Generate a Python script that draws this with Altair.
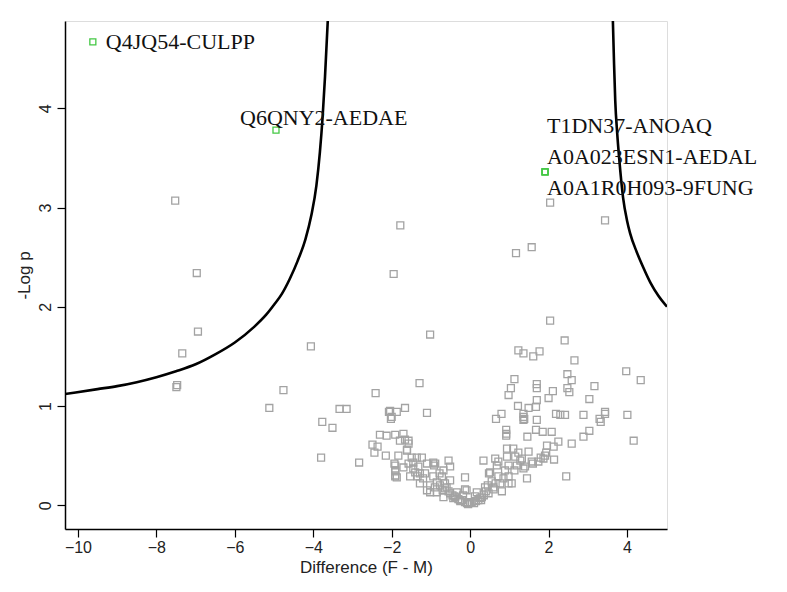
import altair as alt
import pandas as pd

# ---- data ----
gray_x = [-7.52, -6.97, -6.94, -7.34, -7.49, -7.47, -4.06, -4.76, -5.12, -3.77, -3.51, -3.33, -3.15,
          -3.80, -2.83, -2.41, -2.49, -2.36, -2.44, -2.15, -2.07, -2.02, -1.91, -1.93, -1.91, -1.91,
          -1.78, -1.95, -1.02,
          2.04, 3.44, 1.17, 1.57,
          2.04, 2.41, 1.23, 1.36, 1.61, 1.77, 2.66, 3.98, 4.35, -1.29, 1.13, 1.04, 0.98, 1.70, 1.70,
          2.11, 2.00, 2.48, 2.59, 2.48, 2.53, 3.17, 3.04, 1.70, 1.22, 1.49, 1.68, 1.36, 1.36, 1.38,
          1.36, 0.66, 0.80, 1.70, 2.19, 2.30, 2.42, 2.89, 3.30, 3.33, 3.44, 3.44, 4.01, 4.17, 0.92,
          0.92, 0.92, 1.68, 1.85, 2.08, 1.46, 3.04, 2.89, 2.59, 2.25, 2.13, 1.96, 2.14, 2.45,
          -2.04, -1.87, -1.66, -2.00, -1.10, -2.30, -2.13, -1.70, -1.83,
          -1.79, -1.57, -1.61, -1.49, -1.36, -1.23, -1.91, -1.91, -1.91, -1.87, -1.57, -1.45, -1.32,
          -1.10, -0.89, -0.55, -0.51, -1.53, -1.34, -1.15, -0.94, -0.72, -0.13, -1.28, -1.02, -0.85,
          -0.64, -0.51, -1.10, -0.85, -0.64, -0.34, -0.09, -0.68, -0.43, -0.21, 0.00,
          -1.66, -1.57, -1.61, -1.45, -1.28, -1.02, -0.77, -0.60, -0.51, -0.38, -0.94, -0.92, -0.68,
          -0.78, -0.26, -0.13, 0.17,
          0.94, 1.10, 1.23, 0.34, 0.64, 0.72, 0.94, 1.15, 1.32, 1.49, 1.91, 1.87, 1.74, 1.57, 1.40,
          0.68, 0.98, 1.19, 0.89, 1.13, 1.36, 1.45, 0.48, 0.72, 0.98, 0.55, 0.77, 0.59, 0.81, 0.38,
          0.47, 0.30, 0.21, 0.04, -0.08, -0.13, 0.51, 0.98, 1.06, 1.28, 1.94,
          0.10, 0.15, -0.05, 0.25, -0.30, 0.35, -0.45, 0.12, -0.18, 0.40, -0.55, 0.60, -0.70, 0.65,
          -0.90, 0.85, -1.20, -1.40, -1.70, 1.60, 1.80, -0.25, 0.28, 0.45, -0.40]
gray_y = [3.07, 2.34, 1.75, 1.53, 1.19, 1.21, 1.60, 1.16, 0.98, 0.84, 0.78, 0.97, 0.97,
          0.48, 0.43, 1.13, 0.61, 0.59, 0.53, 0.50, 0.94, 0.87, 0.71, 0.42, 0.34, 0.29,
          2.82, 2.33, 1.72,
          3.05, 2.87, 2.54, 2.60,
          1.86, 1.66, 1.56, 1.53, 1.50, 1.55, 1.46, 1.35, 1.26, 1.23, 1.27, 1.18, 1.11, 1.22, 1.18,
          1.15, 1.08, 1.32, 1.26, 1.18, 1.14, 1.20, 1.07, 1.06, 1.00, 0.98, 0.99, 0.92, 0.89, 0.87,
          0.86, 0.87, 0.92, 0.86, 0.92, 0.91, 0.91, 0.91, 0.87, 0.84, 0.94, 0.92, 0.91, 0.65, 0.76,
          0.72, 0.70, 0.76, 0.74, 0.74, 0.69, 0.75, 0.69, 0.62, 0.64, 0.59, 0.60, 0.46, 0.29,
          0.95, 0.94, 0.98, 0.89, 0.93, 0.71, 0.70, 0.72, 0.50,
          0.65, 0.65, 0.55, 0.48, 0.48, 0.48, 0.40, 0.35, 0.30, 0.28, 0.42, 0.43, 0.39,
          0.42, 0.42, 0.45, 0.39, 0.29, 0.29, 0.32, 0.29, 0.29, 0.28, 0.22, 0.20, 0.23,
          0.22, 0.25, 0.15, 0.13, 0.17, 0.13, 0.15, 0.08, 0.07, 0.05, 0.03,
          0.66, 0.62, 0.56, 0.37, 0.32, 0.13, 0.20, 0.18, 0.12, 0.08, 0.43, 0.40, 0.35,
          0.32, 0.05, 0.03, 0.13,
          0.57, 0.57, 0.53, 0.45, 0.47, 0.44, 0.49, 0.49, 0.47, 0.54, 0.50, 0.47, 0.44, 0.44, 0.39,
          0.40, 0.40, 0.40, 0.35, 0.35, 0.37, 0.27, 0.32, 0.29, 0.29, 0.24, 0.22, 0.18, 0.14, 0.18,
          0.12, 0.08, 0.05, 0.03, 0.02, 0.16, 0.33, 0.22, 0.22, 0.45, 0.53,
          0.02, 0.04, 0.01, 0.07, 0.06, 0.10, 0.10, 0.09, 0.10, 0.14, 0.14, 0.16, 0.15, 0.22,
          0.18, 0.27, 0.27, 0.33, 0.38, 0.42, 0.48, 0.04, 0.05, 0.20, 0.09]

green_x = [-9.62, -4.95, 1.91, 1.91, 1.91]
green_y = [4.67, 3.78, 3.36, 3.36, 3.36]
green_labels = ["Q4JQ54-CULPP", "Q6QNY2-AEDAE", "T1DN37-ANOAQ", "A0A023ESN1-AEDAL", "A0A1R0H093-9FUNG"]

left_curve_x = [-10.33, -9.5, -9.0, -8.5, -8.0, -7.5, -7.0, -6.5, -6.0, -5.5, -5.2, -5.0, -4.8,
                -4.6, -4.4, -4.2, -4.05, -3.92, -3.83, -3.76, -3.70, -3.63]
left_curve_y = [1.12, 1.17, 1.20, 1.24, 1.29, 1.35, 1.42, 1.52, 1.64, 1.80, 1.92, 2.02, 2.13,
                2.28, 2.46, 2.68, 2.92, 3.22, 3.56, 3.92, 4.32, 4.88]
right_curve_x = [3.64, 3.67, 3.70, 3.75, 3.80, 3.90, 4.00, 4.08, 4.25, 4.41, 4.60, 4.80, 5.02]
right_curve_y = [4.88, 4.45, 4.08, 3.75, 3.50, 3.10, 2.87, 2.74, 2.55, 2.40, 2.24, 2.11, 2.00]

x_ticks = [-10, -8, -6, -4, -2, 0, 2, 4]
y_ticks = [0, 1, 2, 3, 4]
x_domain = [-10.33, 5.02]
y_domain = [-0.24, 4.88]

# ---- tables ----
gray = pd.DataFrame({"x": gray_x, "y": gray_y})
green = pd.DataFrame({"x": green_x, "y": green_y, "label": green_labels})
left = pd.DataFrame({"x": left_curve_x, "y": left_curve_y})
right = pd.DataFrame({"x": right_curve_x, "y": right_curve_y})

xs = alt.Scale(domain=x_domain, nice=False, zero=False)
ys = alt.Scale(domain=y_domain, nice=False, zero=False)

axis_common = dict(domainColor="black", domainWidth=1.5, tickColor="black", tickWidth=1.2,
                   tickSize=8, labelFont="Liberation Sans", labelFontSize=16, labelColor="#222",
                   titleFont="Liberation Sans", titleFontSize=17, titleFontWeight="normal",
                   titleColor="#222", grid=False, format="d")

X = alt.X("x:Q", scale=xs, title="Difference (F - M)",
          axis=alt.Axis(values=x_ticks, labelPadding=2, titlePadding=4, **axis_common))
Y = alt.Y("y:Q", scale=ys, title="-Log p",
          axis=alt.Axis(values=y_ticks, labelAngle=270, labelPadding=4, titlePadding=4, **axis_common))

pts = alt.Chart(gray).mark_point(shape="square", filled=False, color="#a3a3a3",
                                 size=48, strokeWidth=1.3, opacity=1).encode(x=X, y=Y)

def curve(df):
    return alt.Chart(df).mark_line(color="black", strokeWidth=2.6, clip=True,
                                   interpolate="monotone").encode(
        x=alt.X("x:Q", scale=xs), y=alt.Y("y:Q", scale=ys), order="x:Q")

grn = alt.Chart(green).mark_point(shape="square", filled=False, color="#44c844",
                                  size=36, strokeWidth=1.3, opacity=1).encode(
    x=alt.X("x:Q", scale=xs), y=alt.Y("y:Q", scale=ys))

def lab(i, dx, dy):
    return alt.Chart(green.iloc[[i]]).mark_text(
        align="left", baseline="middle", font="Liberation Serif", fontSize=22,
        color="#111", dx=dx, dy=dy).encode(
        x=alt.X("x:Q", scale=xs), y=alt.Y("y:Q", scale=ys), text="label:N")

labels = [lab(0, 13, 0), lab(1, -36, -12), lab(2, 2, -46), lab(3, 2, -15), lab(4, 2, 16)]

chart = alt.layer(pts, curve(left), curve(right), grn, *labels).properties(
    width=602, height=508,
    autosize=alt.AutoSizeParams(type="none"),
    padding={"left": 57, "top": 13, "right": 100, "bottom": 55},
).configure_view(stroke=None).configure(background="white")

chart.save("out.html", embed_options={"renderer": "svg", "actions": False})
